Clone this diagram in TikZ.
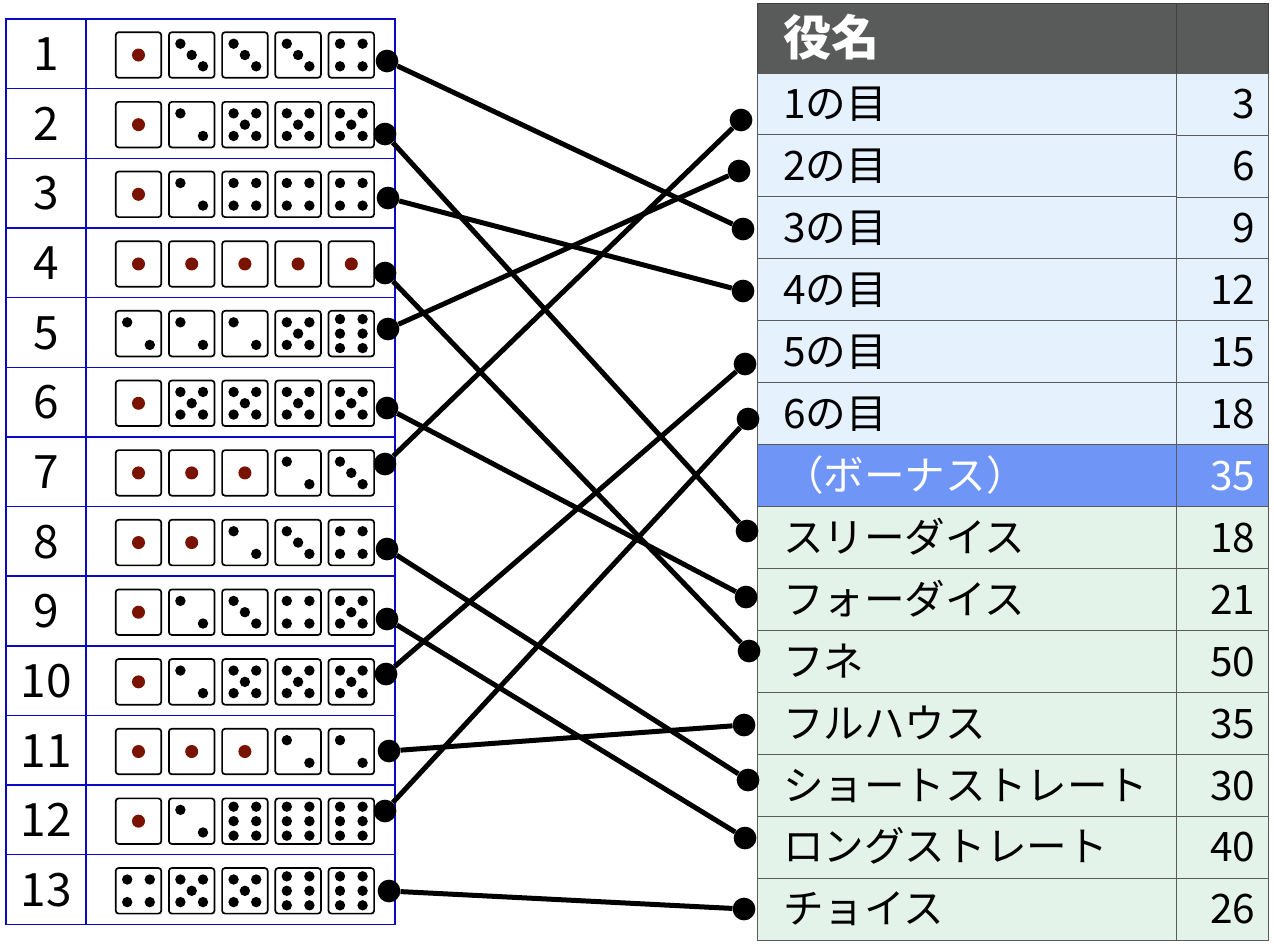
\documentclass[tikz,border=0pt]{standalone}
\usepackage{fontspec}
\setmainfont{Noto Sans CJK JP}
\usetikzlibrary{positioning, calc}
\definecolor{gridblue}{HTML}{0A0AC4}
\definecolor{gridgray}{HTML}{585C5A}
\definecolor{headline}{HTML}{3E4140}
\definecolor{headgray}{HTML}{595B5A}
\definecolor{rowblue}{HTML}{E6F1FE}
\definecolor{rowbonus}{HTML}{6F96F6}
\definecolor{rowgreen}{HTML}{E4F3EA}
\definecolor{pipred}{HTML}{7A1200}
\tikzset{
  numcell/.style={draw=gridblue, line width=1.4pt, outer sep=0, minimum width=80, minimum height=69.65, inner sep=0, text height=33.7, text depth=0, font=\fontsize{46}{46}\selectfont},
  dicecell/.style={draw=gridblue, line width=1.4pt, outer sep=0, minimum width=309, minimum height=69.65, inner sep=0},
  diebox/.style={draw=black, line width=1.7pt, rounded corners=3pt, minimum size=45.6, inner sep=0},
  namecell/.style={draw=gridgray, line width=0.9pt, outer sep=0, minimum width=419, minimum height=61.93, inner ysep=0, inner xsep=26, text width=367, align=left, text height=29.6, text depth=0, font=\fontsize{40.6}{40.6}\selectfont},
  scorecell/.style={draw=gridgray, line width=0.7pt, outer sep=0, minimum width=92, minimum height=61.93, inner ysep=0, inner xsep=12.5, text width=67, align=right, text height=29.6, text depth=0, font=\fontsize{40.6}{40.6}\selectfont},
  joint/.style={circle, fill=black, minimum size=22.7, inner sep=0},
  link/.style={draw=black, line width=5pt},
  pip/.style={fill=black},
  face1/.pic={\fill[pipred] (0,0) circle[radius=6.5];},
  face2/.pic={\foreach \u/\v in {-11.3/-11.3, 11.3/11.3} \fill[pip] (\u,\v) circle[radius=5.2];},
  face3/.pic={\foreach \u/\v in {-11.3/-11.3, 0/0, 11.3/11.3} \fill[pip] (\u,\v) circle[radius=5.2];},
  face4/.pic={\foreach \u/\v in {-11.3/-11.3, 11.3/-11.3, -11.3/11.3, 11.3/11.3} \fill[pip] (\u,\v) circle[radius=5.2];},
  face5/.pic={\foreach \u/\v in {-11.3/-11.3, 11.3/-11.3, 0/0, -11.3/11.3, 11.3/11.3} \fill[pip] (\u,\v) circle[radius=5.2];},
  face6/.pic={\foreach \u/\v in {-11.3/-14.5, 11.3/-14.5, -11.3/0, 11.3/0, -11.3/14.5, 11.3/14.5} \fill[pip] (\u,\v) circle[radius=5.2];}
}
\begin{document}
\begin{tikzpicture}[x=1pt, y=-1pt]
  \useasboundingbox (0,0) rectangle (1274,946);
  \foreach \row/\faces [evaluate=\row as \rowy using 53.8+69.65*(\row-1)] in {
    1/{1,3,3,3,4}, 2/{1,2,5,5,5}, 3/{1,2,4,4,4}, 4/{1,1,1,1,1}, 5/{2,2,2,5,6},
    6/{1,5,5,5,5}, 7/{1,1,1,2,3}, 8/{1,1,2,3,4}, 9/{1,2,3,4,5}, 10/{1,2,5,5,5},
    11/{1,1,1,2,2}, 12/{1,2,6,6,6}, 13/{4,5,5,6,6}} {
    \node[numcell] (num\row) at (46,\rowy) {\row};
    \node[dicecell, right=0pt of num\row] (dice\row) {};
    \foreach \face [count=\col] in \faces {
      \node[diebox] (die\row-\col) at ({138.5+53.2*(\col-1)},{\rowy+1.2}) {};
      \pic at (die\row-\col.center) {face\face};
    }
  }
  \node[namecell, draw=headline, fill=headgray, text=white, minimum height=70, text height=34.6, font=\fontsize{48}{48}\selectfont\bfseries] (namehead) at (966.5,38) {役名};
  \node[scorecell, draw=headline, fill=headgray, minimum height=70, right=0pt of namehead] (scorehead) {};
  \foreach \hand/\score/\tone/\ink [count=\i, evaluate=\i as \rowy using 73+61.93*(\i-0.5)] in {
    1の目/3/rowblue/black, 2の目/6/rowblue/black, 3の目/9/rowblue/black,
    4の目/12/rowblue/black, 5の目/15/rowblue/black, 6の目/18/rowblue/black,
    （ボーナス）/35/rowbonus/white,
    スリーダイス/18/rowgreen/black, フォーダイス/21/rowgreen/black, フネ/50/rowgreen/black,
    フルハウス/35/rowgreen/black, ショートストレート/30/rowgreen/black,
    ロングストレート/40/rowgreen/black, チョイス/26/rowgreen/black} {
    \node[namecell, fill=\tone, text=\ink] (name\i) at (966.5,\rowy) {\hand};
    \node[scorecell, fill=\tone, text=\ink, right=0pt of name\i] (score\i) {\score};
  }
  \foreach \row/\px/\py in {1/387/61, 2/385/134, 3/388/198, 4/385/273, 5/388/329, 6/387/408, 7/385/464,
    8/387/549, 9/387/619, 10/386/674, 11/389/751, 12/385/811, 13/389/891}
    \node[joint] (from\row) at (\px,\py) {};
  \foreach \i/\px/\py in {1/741/120, 2/739/171, 3/743/229, 4/743/291, 5/745/364, 6/748/419,
    8/747/531, 9/746/597, 10/749/651, 11/744/725, 12/748/780, 13/745/838, 14/744/909}
    \node[joint] (to\i) at (\px,\py) {};
  \foreach \a/\b in {1/3, 2/8, 3/4, 4/10, 5/2, 6/9, 7/1, 8/12, 9/13, 10/5, 11/11, 12/6, 13/14}
    \draw[link] (from\a) -- (to\b);
\end{tikzpicture}
\end{document}
